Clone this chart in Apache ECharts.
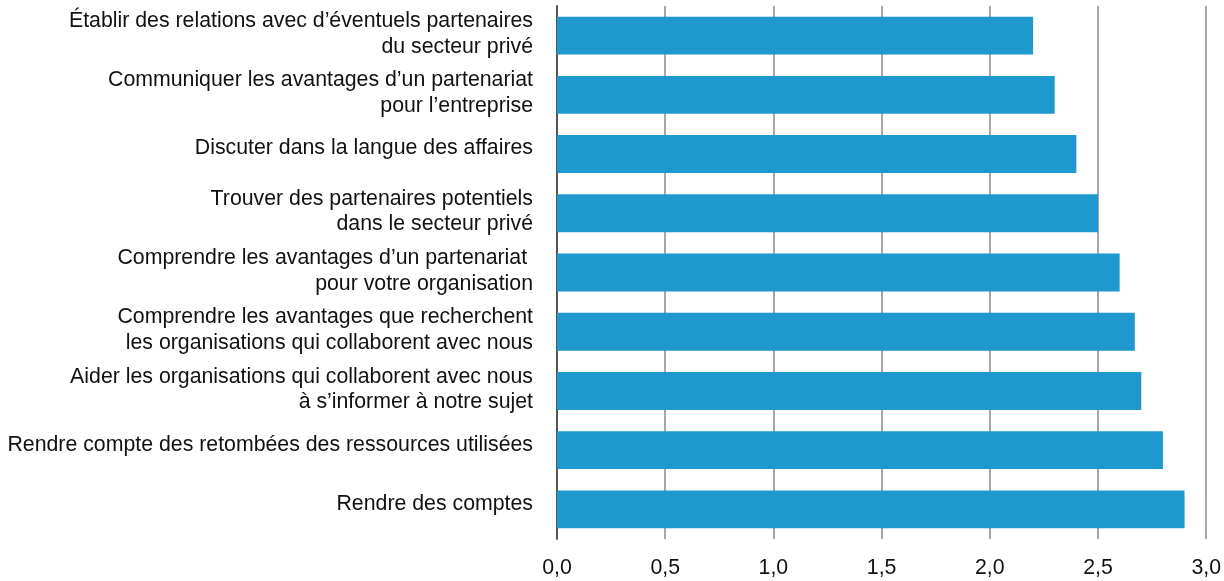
<!DOCTYPE html>
<html>
<head>
<meta charset="utf-8">
<script src="https://cdn.jsdelivr.net/npm/echarts@6/dist/echarts.min.js"></script>
<style>
html,body{margin:0;padding:0;background:#fff;}
#chart{width:1224px;height:581px;}
</style>
</head>
<body>
<div id="chart"></div>
<script>
const categories = [
  "Établir des relations avec d’éventuels partenaires\ndu secteur privé",
  "Communiquer les avantages d’un partenariat\npour l’entreprise",
  "Discuter dans la langue des affaires",
  "Trouver des partenaires potentiels\ndans le secteur privé",
  "Comprendre les avantages d’un partenariat \npour votre organisation",
  "Comprendre les avantages que recherchent\nles organisations qui collaborent avec nous",
  "Aider les organisations qui collaborent avec nous\nà s’informer à notre sujet",
  "Rendre compte des retombées des ressources utilisées",
  "Rendre des comptes"
];
const values = [2.2, 2.3, 2.4, 2.5, 2.6, 2.67, 2.7, 2.8, 2.9];
const xTicks = { min: 0, max: 3, interval: 0.5 };

const chart = echarts.init(document.getElementById('chart'), null, {renderer: 'canvas'});
chart.setOption({
  animation: false,
  textStyle: { fontFamily: 'Liberation Sans, Arial, sans-serif' },
  grid: { left: 557, right: 16, top: 6, bottom: 42, containLabel: false },
  xAxis: {
    type: 'value',
    min: xTicks.min, max: xTicks.max, interval: xTicks.interval,
    axisLine: { show: false },
    axisTick: { show: false },
    splitLine: { show: true, lineStyle: { color: '#8a8a8a', width: 1.5 } },
    axisLabel: {
      color: '#111', fontSize: 21.3, margin: 19,
      fontFamily: 'Liberation Sans, Arial, sans-serif',
      formatter: v => v.toFixed(1).replace('.', ',')
    }
  },
  yAxis: {
    type: 'category',
    data: categories,
    inverse: true,
    axisLine: { show: true, lineStyle: { color: '#555', width: 2 } },
    axisTick: { show: false },
    axisLabel: {
      color: '#111', fontSize: 21.3, lineHeight: 25.5, margin: 24, align: 'right',
      fontFamily: 'Liberation Sans, Arial, sans-serif',
      formatter: v => {
        if (v.indexOf('\n') >= 0) {
          return v.split('\n').map(l => '{t|' + l + '}').join('\n') + '\n{g| }';
        }
        return '{t|' + v + '}\n{h| }';
      },
      rich: {
        t: { fontSize: 21.3, lineHeight: 25.5, color: '#111', fontFamily: 'Liberation Sans, Arial, sans-serif' },
        g: { fontSize: 1, lineHeight: 3 },
        h: { fontSize: 1, lineHeight: 11 }
      }
    }
  },
  series: [{
    type: 'bar',
    data: values,
    barCategoryGap: '36%',
    itemStyle: { color: '#1f98cd' },
    z: 3
  }]
});
</script>
</body>
</html>
